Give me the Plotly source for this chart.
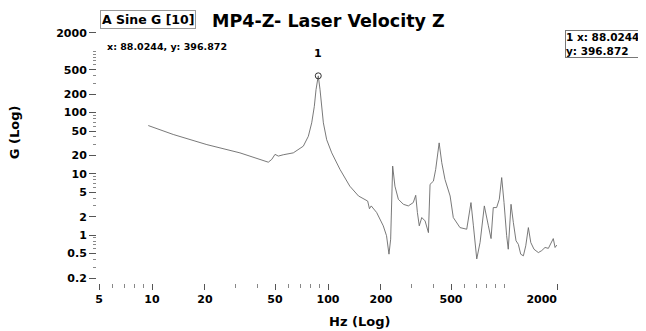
import numpy as np
import plotly.graph_objects as go

# ---- data (Hz, G) ----
freq_hz = [9.52, 13.2, 20.5, 31.6, 45.8, 47.9, 50.0, 52.2, 55.7, 59.5, 63.5, 72.4, 77.3,
           80.8, 83.6, 85.5, 88.0244, 90.1, 92.1, 94.1, 98.3, 105, 117, 133, 149, 158,
           168, 172, 176, 189, 206, 215, 222, 227, 233, 240, 251, 268, 286, 305, 315,
           322, 330, 341, 356, 372, 380, 397, 409, 428, 443, 462, 494, 515, 562, 614,
           649, 670, 700, 731, 773, 815, 844, 869, 908, 940, 970, 1000, 1023, 1035,
           1057, 1096, 1130, 1170, 1206, 1244, 1288, 1329, 1375, 1419, 1480, 1567,
           1637, 1710, 1787, 1841, 1905, 1950, 1995]
g_level = [61.4, 43.9, 30.0, 22.0, 15.5, 17.2, 20.8, 19.5, 20.5, 21.5, 22.0, 28.3, 41.0,
           68.0, 126, 236, 396.872, 236, 126, 68.0, 36.0, 22.0, 11.8, 6.3, 4.36, 4.0,
           3.6, 2.7, 3.0, 2.34, 1.42, 0.98, 0.49, 0.86, 13.4, 6.3, 3.85, 3.19, 3.0, 3.4,
           4.47, 2.34, 1.42, 1.94, 1.71, 1.1, 6.75, 7.6, 11.8, 32.0, 15.2, 8.1, 4.36,
           1.94, 1.33, 1.25, 3.4, 1.42, 0.41, 0.76, 3.0, 1.42, 0.88, 2.82, 2.82, 3.85,
           8.7, 3.4, 1.25, 0.98, 0.59, 3.19, 1.6, 0.81, 0.71, 0.49, 0.46, 0.67, 1.33,
           0.76, 0.59, 0.52, 0.56, 0.63, 0.61, 0.71, 0.88, 0.63, 0.69]

peak_hz = [88.0244]
peak_g = [396.872]

x_tick_vals = [5, 10, 20, 50, 100, 200, 500, 2000]
x_tick_text = ["5", "10", "20", "50", "100", "200", "500", "2000"]
y_tick_vals = [0.2, 0.5, 1, 2, 5, 10, 20, 50, 100, 200, 500, 2000]
y_tick_text = ["0.2", "0.5", "1", "2", "5", "10", "20", "50", "100", "200", "500", "2000"]

FONT = "DejaVu Sans"


def minor_vals(lo_exp, hi_exp, exclude):
    out = []
    for e in range(lo_exp, hi_exp + 1):
        for m in range(1, 10):
            v = round(m * 10 ** e, 6)
            if v not in exclude:
                out.append(v)
    return out


x_minor = [v for v in minor_vals(0, 3, x_tick_vals) if 4.9 <= v <= 2050]
y_minor = [v for v in minor_vals(-1, 3, y_tick_vals) if 0.16 <= v <= 2100]

# the last x label sits to the left of its tick in the reference (right-aligned)
x_tick_labels = list(x_tick_text)
x_tick_labels[-1] = x_tick_labels[-1] + "&nbsp;" * 8

fig = go.Figure()
fig.add_trace(go.Scatter(x=freq_hz, y=g_level, mode="lines",
                         line=dict(color="#6a6a6a", width=0.9), showlegend=False))
fig.add_trace(go.Scatter(x=peak_hz, y=peak_g, mode="markers",
                         marker=dict(symbol="circle-open", size=6, color="#333",
                                     line=dict(width=1)), showlegend=False))

axis_common = dict(showgrid=False, zeroline=False, showline=False, ticks="outside",
                   tickcolor="#555", tickwidth=1, automargin=False,
                   tickfont=dict(family=FONT, size=11, color="black", weight="bold"))

fig.update_xaxes(type="log", range=[np.log10(4.87), np.log10(2080)],
                 tickmode="array", tickvals=x_tick_vals, ticktext=x_tick_labels,
                 ticklen=6,
                 minor=dict(tickmode="array", tickvals=x_minor, ticks="outside",
                            ticklen=4, tickcolor="#888", tickwidth=1, showgrid=False),
                 **axis_common)
fig.update_yaxes(type="log", range=[-0.78, 3.33],
                 tickmode="array", tickvals=y_tick_vals, ticktext=y_tick_text,
                 ticklen=7,
                 minor=dict(tickmode="array", tickvals=y_minor, ticks="outside",
                            ticklen=3, tickcolor="#888", tickwidth=1, showgrid=False),
                 **axis_common)

bold = lambda s: dict(family=FONT, size=s, color="black", weight="bold")

annotations = [
    dict(text="MP4-Z- Laser Velocity Z", x=0.501, y=1.040, xref="paper", yref="paper",
         showarrow=False, font=bold(17.5), xanchor="center", yanchor="middle"),
    dict(text="A Sine G [10]", x=0.110, y=1.044, xref="paper", yref="paper",
         showarrow=False, font=bold(12.5), xanchor="center", yanchor="middle",
         bordercolor="#999", borderwidth=1, borderpad=1),
    dict(text="x: 88.0244, y: 396.872", x=0.0173, y=0.940, xref="paper", yref="paper",
         showarrow=False, font=bold(9.5), xanchor="left", yanchor="middle"),
    dict(text="1 x: 88.0244<br>y: 396.872", x=1.011, y=0.950, xref="paper", yref="paper",
         showarrow=False, font=bold(10.5), xanchor="left", yanchor="middle",
         align="left", bordercolor="#777", borderwidth=1, borderpad=0),
    dict(text="1", x=np.log10(peak_hz[0]), y=np.log10(peak_g[0]), xref="x", yref="y",
         showarrow=False, font=bold(11), yshift=22),
    dict(text="G (Log)", x=-0.179, y=0.599, xref="paper", yref="paper", textangle=-90,
         showarrow=False, font=bold(13), xanchor="center", yanchor="middle"),
    dict(text="Hz (Log)", x=0.566, y=-0.151, xref="paper", yref="paper",
         showarrow=False, font=bold(13), xanchor="center", yanchor="middle"),
]

# page body adds an 8px offset, so the figure is 8px smaller and margins shifted
fig.update_layout(
    width=638, height=323,
    margin=dict(l=89, r=86, t=23, b=48),
    paper_bgcolor="white", plot_bgcolor="white",
    annotations=annotations,
)

fig.write_html("out.html")
